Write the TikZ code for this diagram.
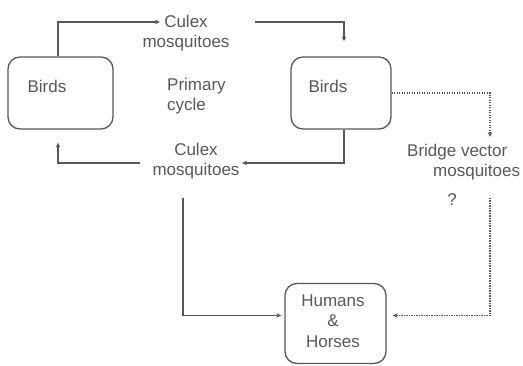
\documentclass[tikz,border=0pt]{standalone}
\usepackage{fontspec}
\setmainfont{Liberation Sans}
\usetikzlibrary{positioning}
\usetikzlibrary{arrows.meta}
\definecolor{inkgray}{HTML}{585858}
\tikzset{
    box/.style = {rectangle, rounded corners=12pt, line width=1.3pt, draw=inkgray, inner sep=0pt},
    txt/.style = {inner sep=0pt, align=center, text=inkgray, font=\fontsize{17}{20.5}\selectfont},
    edgen/.style = {-{Stealth[length=5pt,width=4.5pt]}, line width=1.2pt, inkgray},
    edged/.style = {-{Stealth[length=5pt,width=4.5pt]}, line width=1.2pt, inkgray, dash pattern=on 1.2pt off 1.3pt}, % bridge
}

\begin{document}
\begin{tikzpicture}[x=1pt, y=-1pt]
\useasboundingbox (0,0) rectangle (523,366);
\node[box, minimum width=105pt, minimum height=72pt] at (60.5, 93) (birdsL) {};
\node[box, minimum width=100pt, minimum height=72pt] at (341, 93) (birdsR) {};
\node[box, minimum width=101pt, minimum height=80pt] at (335.5, 323.5) (humans) {};
%
\node[txt] at (47, 86) (birdsLt) {Birds};
\node[txt] at (328, 86) (birdsRt) {Birds};
\node[txt] at (186, 33) (culexT) {Culex\\mosquitoes};
\node[txt, align=left, anchor=west] at (167, 96) (primary) {Primary\\cycle};
\node[txt] at (196, 161) (culexB) {Culex\\mosquitoes};
\node[txt, align=left, anchor=west] at (407, 162) (bridge) {Bridge vector\\\hspace*{26pt}mosquitoes};
\node[txt] at (452, 200) (query) {?};
\node[txt] at (333, 321) (humanst) {Humans\\\&\\Horses};
%
\coordinate (a1) at (160, 22);
\coordinate (a2) at (255, 22);
\coordinate (a3) at (242, 163);
\coordinate (a4) at (140, 163);
\coordinate (a5) at (183, 198);
\coordinate (a6) at (490, 137);
\coordinate (a7) at (490, 198);
%
\draw[edgen] ([xshift=-2.5pt]birdsL.north) |- (a1);
\draw[edgen] (a2) -| ([xshift=3pt, yshift=15pt]birdsR.north);
\draw[edgen] ([xshift=3pt]birdsR.south) |- (a3);
\draw[edgen] (a4) -| ([xshift=-2.5pt, yshift=-13pt]birdsL.south);
\draw[edgen] (a5) |- ([xshift=-3pt, yshift=8pt]humans.west);
\draw[edged] (birdsR.east) -| (a6);
\draw[edged] (a7) |- ([xshift=6pt, yshift=8pt]humans.east);

\end{tikzpicture}
\end{document}
